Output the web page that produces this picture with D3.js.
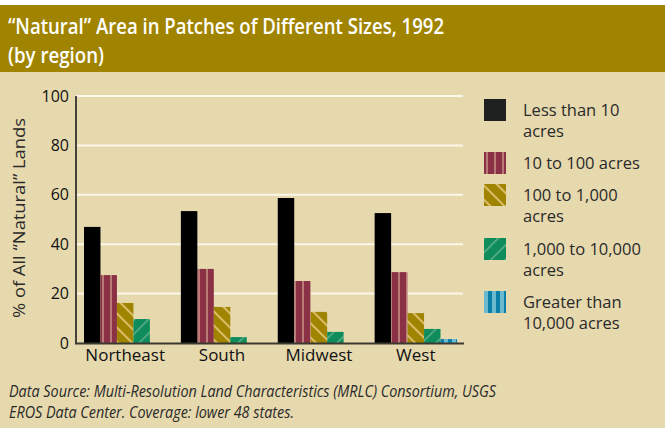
<!DOCTYPE html>
<html>
<head>
<meta charset="utf-8">
<script src="https://cdn.jsdelivr.net/npm/d3@7"></script>
<style>
  body { margin: 0; background: #fff; }
  svg { display: block; }
</style>
</head>
<body>
<div id="chart"></div>
<script>
// data
var regions = ['Northeast', 'South', 'Midwest', 'West']
var sizeClasses = ['lt10', 'to100', 'to1000', 'to10000', 'gt10000']
var lt10    = [47.0, 53.4, 58.7, 52.6]
var to100   = [27.5, 30.0, 25.1, 28.7]
var to1000  = [16.2, 14.6, 12.6, 12.1]
var to10000 = [9.7, 2.4, 4.5, 5.7]
var gt10000 = [0, 0, 0, 1.6]
var legendText = [['Less than 10', 'acres'], ['10 to 100 acres'], ['100 to 1,000', 'acres'],
                  ['1,000 to 10,000', 'acres'], ['Greater than', '10,000 acres']]
var yTicks = [0, 20, 40, 60, 80, 100]

var series = [lt10, to100, to1000, to10000, gt10000]
var W = 665, H = 428
var font = "'Open Sans', sans-serif"

var svg = d3.select('#chart').append('svg')
    .attr('width', W)
    .attr('height', H)

// background
svg.append('rect').attr('x', 0).attr('y', 5).attr('width', W).attr('height', H - 5).attr('fill', '#e6d9ae')
svg.append('rect').attr('x', 0).attr('y', 5).attr('width', W).attr('height', 67).attr('fill', '#a08400')

// patterns
var defs = svg.append('defs')

var p = defs.append('pattern').attr('id', 'pRed').attr('patternUnits', 'userSpaceOnUse')
    .attr('width', 8).attr('height', 8)
p.append('rect').attr('width', 8).attr('height', 8).attr('fill', '#8b3145')
p.append('rect').attr('x', 6).attr('width', 2).attr('height', 8).attr('fill', '#b97b78')

p = defs.append('pattern').attr('id', 'pGold').attr('patternUnits', 'userSpaceOnUse')
    .attr('width', 10).attr('height', 10).attr('patternTransform', 'rotate(-45)')
p.append('rect').attr('width', 10).attr('height', 10).attr('fill', '#a08400')
p.append('rect').attr('x', 0).attr('width', 2).attr('height', 10).attr('fill', '#d9bd68')

p = defs.append('pattern').attr('id', 'pGreen').attr('patternUnits', 'userSpaceOnUse')
    .attr('width', 10).attr('height', 10).attr('patternTransform', 'rotate(45)')
p.append('rect').attr('width', 10).attr('height', 10).attr('fill', '#0e8c5c')
p.append('rect').attr('x', 0).attr('width', 1.5).attr('height', 10).attr('fill', '#62b08c')

p = defs.append('pattern').attr('id', 'pBlue').attr('patternUnits', 'userSpaceOnUse')
    .attr('width', 8).attr('height', 8)
p.append('rect').attr('width', 8).attr('height', 8).attr('fill', '#6cbad0')
p.append('rect').attr('x', 0).attr('width', 4).attr('height', 8).attr('fill', '#0a80a8')

var fills = ['#000000', 'url(#pRed)', 'url(#pGold)', 'url(#pGreen)', 'url(#pBlue)']
var legendFills = ['#1f2120', 'url(#pRed)', 'url(#pGold)', 'url(#pGreen)', 'url(#pBlue)']

// title (two separate lines)
svg.append('text').attr('fill', '#fff')
    .attr('font-family', font).attr('font-weight', 600).attr('font-size', 21)
    .attr('x', 8).attr('y', 33.5).attr('textLength', 436).attr('lengthAdjust', 'spacingAndGlyphs')
    .text('\u201cNatural\u201d Area in Patches of Different Sizes, 1992')
svg.append('text').attr('fill', '#fff')
    .attr('font-family', font).attr('font-weight', 600).attr('font-size', 21)
    .attr('x', 8).attr('y', 62.5).attr('textLength', 96).attr('lengthAdjust', 'spacingAndGlyphs')
    .text('(by region)')

// scales
var y = d3.scaleLinear().domain([0, 100]).range([343, 96])
var x0 = d3.scaleBand().domain(regions).range([84, 457]).paddingInner(0.15).paddingOuter(0)
var x1 = d3.scaleBand().domain(sizeClasses).range([0, x0.bandwidth()])

// gridlines
svg.append('g').selectAll('line').data(yTicks.filter(function(d) { return d > 0 }))
  .enter().append('line')
    .attr('x1', 76).attr('x2', 463)
    .attr('y1', function(d) { return y(d) }).attr('y2', function(d) { return y(d) })
    .attr('stroke', '#fbf7ea').attr('stroke-width', 2)

// y tick labels
var yAxis = svg.append('g').attr('transform', 'translate(76,0)')
    .call(d3.axisLeft(y).tickValues(yTicks).tickSize(0).tickPadding(7))
yAxis.select('.domain').remove()
yAxis.selectAll('text').attr('font-family', font).attr('font-size', 16).attr('fill', '#111')

// bars
for (var s = 0; s < series.length; s++) {
  svg.append('g').selectAll('rect').data(series[s])
    .enter().append('rect')
      .attr('x', function(d, i) { return x0(regions[i]) + x1(sizeClasses[s]) })
      .attr('y', function(d) { return y(d) })
      .attr('width', x1.bandwidth())
      .attr('height', function(d) { return y(0) - y(d) })
      .attr('fill', fills[s])
}

// axis lines
svg.append('line').attr('x1', 76).attr('x2', 76).attr('y1', 96).attr('y2', 344)
    .attr('stroke', '#111').attr('stroke-width', 1.5)
svg.append('line').attr('x1', 75).attr('x2', 464).attr('y1', 343.5).attr('y2', 343.5)
    .attr('stroke', '#3b3a30').attr('stroke-width', 2)

// x labels
var xAxis = svg.append('g').attr('transform', 'translate(0,344)')
    .call(d3.axisBottom(x0).tickSize(0).tickPadding(5))
xAxis.select('.domain').remove()
xAxis.selectAll('text').attr('font-family', font).attr('font-size', 17).attr('fill', '#111')

// y title
svg.append('text')
    .attr('transform', 'translate(25,218) rotate(-90)')
    .attr('text-anchor', 'middle')
    .attr('font-family', font).attr('font-size', 16.5).attr('fill', '#2a2a2a')
    .attr('textLength', 200).attr('lengthAdjust', 'spacingAndGlyphs')
    .text('% of All \u201cNatural\u201d Lands')

// legend
var legTop = [99, 152, 184, 238, 291]
for (var i = 0; i < legendText.length; i++) {
  svg.append('rect').attr('x', 484).attr('y', legTop[i]).attr('width', 22).attr('height', 22)
      .attr('fill', legendFills[i])
  var t = svg.append('text').attr('font-family', font).attr('font-size', 16.5).attr('fill', '#2a2a2a')
  for (var j = 0; j < legendText[i].length; j++) {
    t.append('tspan').attr('x', 523).attr('y', legTop[i] + 17 + j * 21).text(legendText[i][j])
  }
}

// footnote
var note = svg.append('text').attr('font-family', font).attr('font-size', 16)
    .attr('font-style', 'italic').attr('fill', '#2a2a2a')
note.append('tspan').attr('x', 9).attr('y', 397).attr('textLength', 487).attr('lengthAdjust', 'spacingAndGlyphs')
    .text('Data Source: Multi-Resolution Land Characteristics (MRLC) Consortium, USGS')
note.append('tspan').attr('x', 9).attr('y', 418).attr('textLength', 285).attr('lengthAdjust', 'spacingAndGlyphs')
    .text('EROS Data Center. Coverage: lower 48 states.')
</script>
</body>
</html>
